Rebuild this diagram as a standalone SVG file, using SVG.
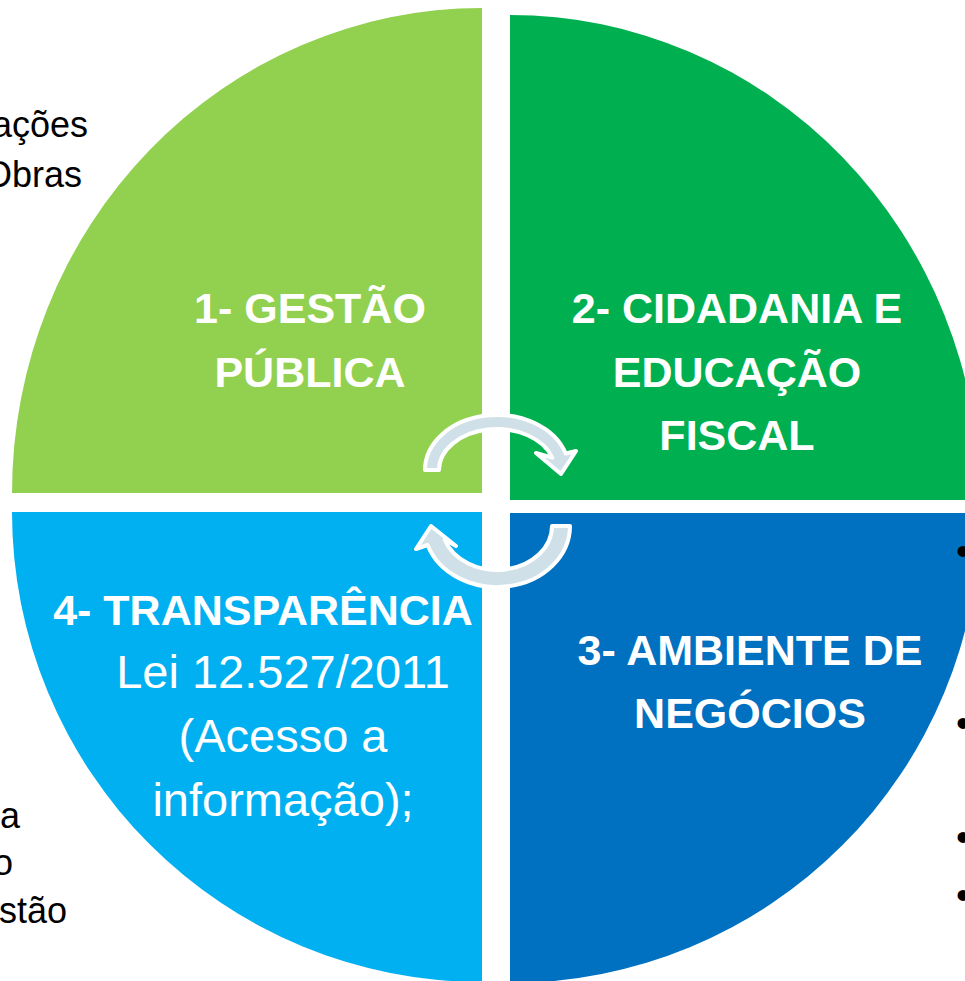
<svg xmlns="http://www.w3.org/2000/svg" width="965" height="981" viewBox="0 0 965 981">
<style>
.b{font-family:"Liberation Sans",Arial,sans-serif;font-weight:bold;font-size:43px;fill:#fff;text-anchor:middle}
.r{font-family:"Liberation Sans",Arial,sans-serif;font-size:47px;fill:#fff;text-anchor:middle}
.k{font-family:"Liberation Sans",Arial,sans-serif;font-size:36px;fill:#000;text-anchor:end}
.bl{font-family:"Liberation Sans",Arial,sans-serif;font-size:40px;fill:#000}
.arr{fill:#D0E0E8;stroke:#fff;stroke-width:4;stroke-linejoin:round}
</style>
<rect width="965" height="981" fill="#fff"/>
<g id="q1">
<path d="M482,493 L12,493 A470,485 0 0 1 482,8 Z" fill="#92D050"/>
<text class="b" x="310" y="323">1- GESTÃO</text>
<text class="b" x="310" y="387">PÚBLICA</text>
</g>
<g id="q2">
<path d="M510,500 L510,15 A470,485 0 0 1 980,500 Z" fill="#00B050"/>
<text class="b" x="737" y="323">2- CIDADANIA E</text>
<text class="b" x="737" y="387">EDUCAÇÃO</text>
<text class="b" x="737" y="450">FISCAL</text>
</g>
<g id="q3">
<path d="M510,513 L980,513 A470,470 0 0 1 510,983 Z" fill="#0070C0"/>
<text class="b" x="750" y="665">3- AMBIENTE DE</text>
<text class="b" x="750" y="728">NEGÓCIOS</text>
</g>
<g id="q4">
<path d="M482,512 L482,982 A470,470 0 0 1 12,512 Z" fill="#00B0F0"/>
<text class="b" x="263" y="625">4- TRANSPARÊNCIA</text>
<text class="r" x="283" y="688">Lei 12.527/2011</text>
<text class="r" x="283" y="752">(Acesso a</text>
<text class="r" x="283" y="816">informação);</text>
</g>
<g id="side-text">
<text class="k" x="88" y="137">ações</text>
<text class="k" x="82" y="187">Obras</text>
<text class="k" x="20" y="828">a</text>
<text class="k" x="13" y="875">o</text>
<text class="k" x="67" y="923">stão</text>
<text class="bl" x="956" y="565">•</text>
<text class="bl" x="956" y="737">•</text>
<text class="bl" x="956" y="851">•</text>
<text class="bl" x="956" y="909">•</text>
</g>
<g id="connectors">
<path class="arr" d="M425,470 A72,55 0 0 1 565.7,453.5 L576,451 L561,474 L536,453 L552.3,457.7 A58,41 0 0 0 439,470 Z"/>
<path class="arr" d="M570,526 A73,61 0 0 1 427.6,545 L416,549 L431,526 L456,546 L444.7,539.6 A55,44 0 0 0 552,526 Z"/>
</g>
</svg>
